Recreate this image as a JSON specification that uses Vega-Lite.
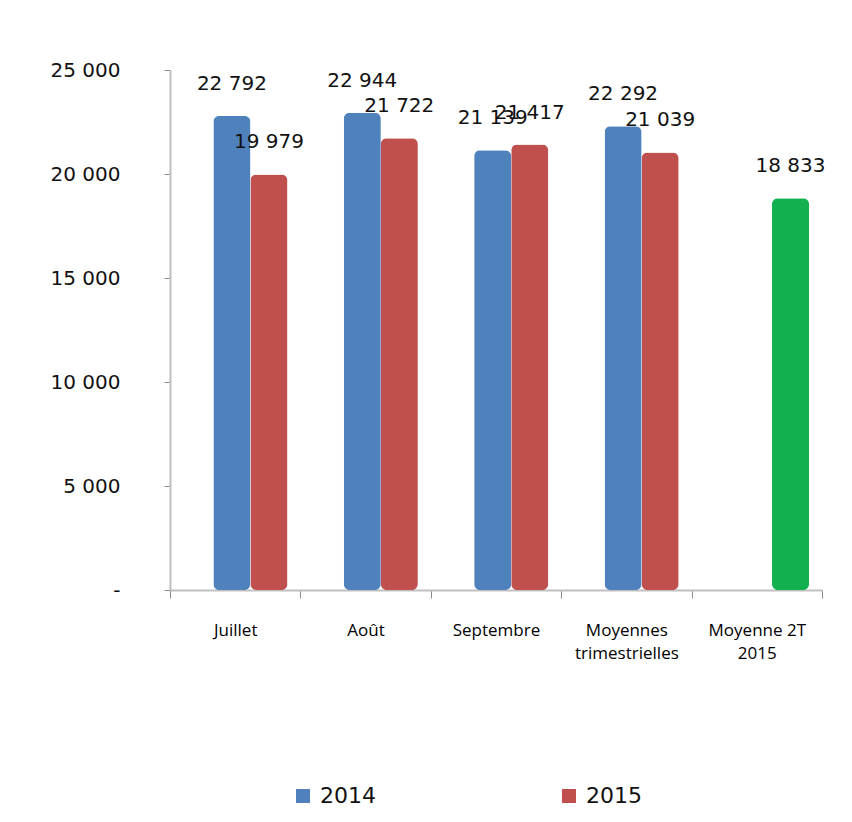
{
  "$schema": "https://vega.github.io/schema/vega-lite/v6.json",
  "autosize": "none",
  "width": 652,
  "height": 520,
  "padding": {"left": 170, "top": 70, "right": 30, "bottom": 232},
  "background": "white",
  "config": {
    "view": {"stroke": null},
    "locale": {"number": {"decimal": ",", "thousands": " ", "grouping": [3], "currency": ["", " €"]}}
  },
  "data": {
    "values": [
      {"categorie": "Juillet", "annee": "2014", "serie": "2014", "valeur": 22792},
      {"categorie": "Juillet", "annee": "2015", "serie": "2015", "valeur": 19979},
      {"categorie": "Août", "annee": "2014", "serie": "2014", "valeur": 22944},
      {"categorie": "Août", "annee": "2015", "serie": "2015", "valeur": 21722},
      {"categorie": "Septembre", "annee": "2014", "serie": "2014", "valeur": 21139},
      {"categorie": "Septembre", "annee": "2015", "serie": "2015", "valeur": 21417},
      {"categorie": "Moyennes trimestrielles", "annee": "2014", "serie": "2014", "valeur": 22292},
      {"categorie": "Moyennes trimestrielles", "annee": "2015", "serie": "2015", "valeur": 21039},
      {"categorie": "Moyenne 2T 2015", "annee": "2015", "serie": "Moyenne 2T 2015", "valeur": 18833}
    ]
  },
  "encoding": {
    "x": {
      "field": "categorie",
      "type": "nominal",
      "sort": ["Juillet", "Août", "Septembre", "Moyennes trimestrielles", "Moyenne 2T 2015"],
      "scale": {"paddingInner": 0, "paddingOuter": 0},
      "axis": {
        "title": null,
        "labelAngle": 0,
        "tickBand": "extent",
        "domainColor": "#bfbfbf",
        "domainWidth": 2,
        "tickColor": "#8c8c8c",
        "tickSize": 8,
        "labelPadding": 24,
        "labelFont": "Open Sans",
        "labelFontSize": 17,
        "labelColor": "#000000",
        "labelLineHeight": 23,
        "labelExpr": "datum.value == 'Moyennes trimestrielles' ? ['Moyennes', 'trimestrielles'] : datum.value == 'Moyenne 2T 2015' ? ['Moyenne 2T', '2015'] : datum.value"
      }
    },
    "xOffset": {
      "field": "annee",
      "type": "nominal",
      "sort": ["2014", "2015"],
      "scale": {"paddingInner": 0, "paddingOuter": 0.76, "align": 0.77}
    },
    "y": {
      "field": "valeur",
      "type": "quantitative",
      "scale": {"domain": [0, 25000], "nice": false},
      "axis": {
        "title": null,
        "values": [0, 5000, 10000, 15000, 20000, 25000],
        "grid": false,
        "domainColor": "#bfbfbf",
        "domainWidth": 2,
        "tickColor": "#8c8c8c",
        "tickSize": 6,
        "labelPadding": 44,
        "labelFont": "DejaVu Sans",
        "labelFontSize": 20,
        "labelColor": "#111111",
        "labelExpr": "datum.value == 0 ? '-' : datum.label"
      }
    }
  },
  "layer": [
    {
      "mark": {"type": "bar", "cornerRadius": 6},
      "encoding": {
        "color": {
          "field": "serie",
          "type": "nominal",
          "scale": {"domain": ["2014", "2015", "Moyenne 2T 2015"], "range": ["#4f81bd", "#c0504d", "#12b04e"]},
          "legend": {
            "values": ["2014", "2015"],
            "title": null,
            "orient": "none",
            "direction": "horizontal",
            "legendX": 122,
            "legendY": 715,
            "symbolType": "square",
            "symbolSize": 196,
            "symbolStrokeWidth": 0,
            "labelFont": "DejaVu Sans",
            "labelFontSize": 22,
            "labelColor": "#111111",
            "labelOffset": 6,
            "columnPadding": 182
          }
        }
      }
    },
    {
      "mark": {"type": "text", "dy": -32, "font": "DejaVu Sans", "fontSize": 20, "color": "#111111"},
      "encoding": {
        "text": {"field": "valeur", "type": "quantitative", "format": ",.0f"}
      }
    }
  ]
}
